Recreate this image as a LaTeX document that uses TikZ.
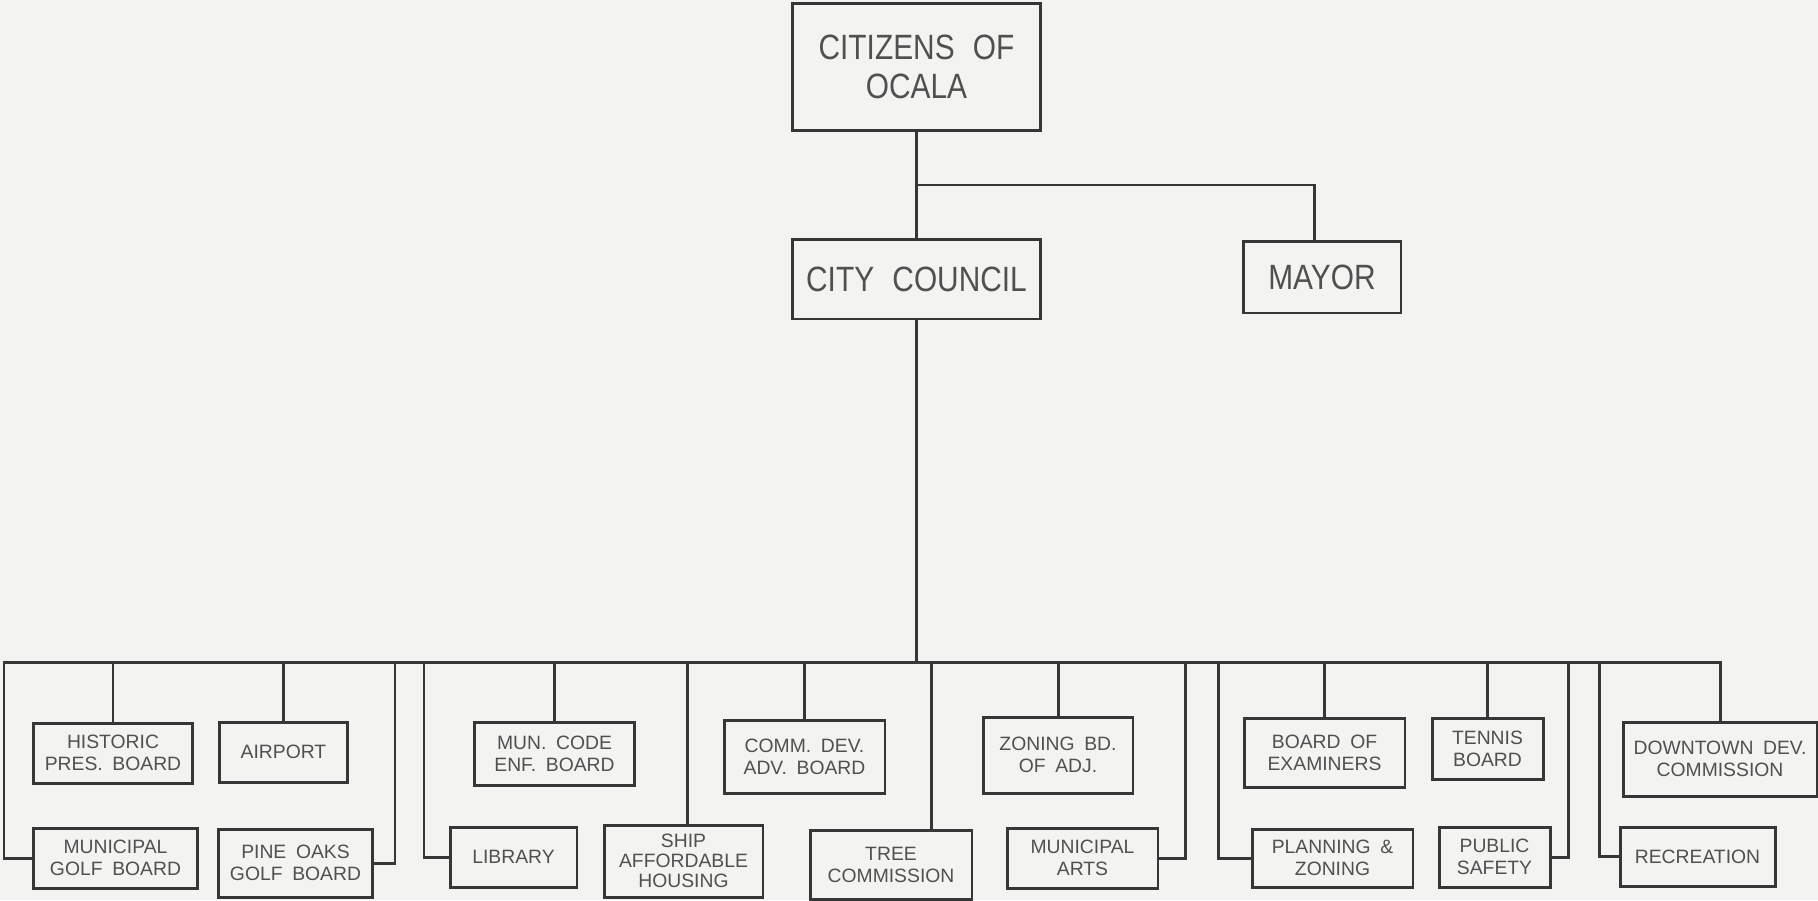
\documentclass[tikz,border=0pt]{standalone}
\usepackage{fontspec}
\setmainfont{Liberation Sans}[WordSpace=1.8]
\newfontfamily\tallfont{Liberation Sans}[FakeStretch=0.85, WordSpace=2.2]
\definecolor{paper}{HTML}{F3F3F1}
\definecolor{ink}{HTML}{363636}
\definecolor{lettering}{HTML}{505050}
\begin{document}
\begin{tikzpicture}[x=0.02cm, y=-0.02cm,
    org/.style={draw=ink, line width=1.7pt, align=center, inner sep=1pt, text=lettering},
    bigorg/.style={org, font=\tallfont\fontsize{20}{22}\selectfont},
    smallorg/.style={org, font=\fontsize{11}{12.5}\selectfont},
    wire/.style={draw=ink, line width=1.7pt}]
  \useasboundingbox[fill=paper] (0,0) rectangle (1818,900);

  % top of the chart
  \node[bigorg, minimum width=4.98cm, minimum height=2.56cm] (cit) at (916.5,67) {CITIZENS OF\\OCALA};
  \node[bigorg, minimum width=4.98cm, minimum height=1.6cm] (council) at (916.5,279) {CITY COUNCIL};
  \node[bigorg, minimum width=3.16cm, minimum height=1.44cm] (mayor) at (1322,277) {MAYOR};

  \coordinate (fork) at (916.5,185);
  \draw[wire] (cit.south) -- (council.north);
  \draw[wire] (fork) -| ([xshift=-0.16cm]mayor.north);

  % boards, upper row
  \node[smallorg, minimum width=3.2cm, minimum height=1.2cm] (hist) at (113,753) {HISTORIC\\PRES. BOARD};
  \node[smallorg, minimum width=2.58cm, minimum height=1.2cm] (airport) at (283.5,752) {AIRPORT};
  \node[smallorg, minimum width=3.22cm, minimum height=1.26cm] (muncode) at (554.5,753.5) {MUN. CODE\\ENF. BOARD};
  \node[smallorg, minimum width=3.22cm, minimum height=1.46cm] (commdev) at (804.5,756.5) {COMM. DEV.\\ADV. BOARD};
  \node[smallorg, minimum width=3.0cm, minimum height=1.52cm] (zoning) at (1058,755) {ZONING BD.\\OF ADJ.};
  \node[smallorg, minimum width=3.22cm, minimum height=1.38cm] (exam) at (1324.5,752.5) {BOARD OF\\EXAMINERS};
  \node[smallorg, minimum width=2.22cm, minimum height=1.22cm] (tennis) at (1487.5,748.5) {TENNIS\\BOARD};
  \node[smallorg, minimum width=3.88cm, minimum height=1.48cm] (down) at (1720,759) {DOWNTOWN DEV.\\COMMISSION};

  % boards, lower row
  \node[smallorg, minimum width=3.3cm, minimum height=1.2cm] (mgolf) at (115.5,858) {MUNICIPAL\\GOLF BOARD};
  \node[smallorg, minimum width=3.1cm, minimum height=1.36cm] (pine) at (295.5,863) {PINE OAKS\\GOLF BOARD};
  \node[smallorg, minimum width=2.54cm, minimum height=1.2cm] (lib) at (513.5,857) {LIBRARY};
  \node[smallorg, minimum width=3.18cm, minimum height=1.44cm, font=\fontsize{11}{11.5}\selectfont] (ship) at (683.5,861) {SHIP\\AFFORDABLE\\HOUSING};
  \node[smallorg, minimum width=3.24cm, minimum height=1.38cm] (tree) at (891,864.5) {TREE\\COMMISSION};
  \node[smallorg, minimum width=3.02cm, minimum height=1.2cm] (arts) at (1082.5,858) {MUNICIPAL\\ARTS};
  \node[smallorg, minimum width=3.22cm, minimum height=1.16cm] (plan) at (1332.5,858) {PLANNING \&\\ZONING};
  \node[smallorg, minimum width=2.22cm, minimum height=1.2cm] (safety) at (1494.5,857) {PUBLIC\\SAFETY};
  \node[smallorg, minimum width=3.1cm, minimum height=1.18cm] (rec) at (1697.5,856.5) {RECREATION};

  % the long bus under the council
  \coordinate (busL) at (4,662);
  \coordinate (busR) at (1720,662);
  \draw[wire] (council.south) -- (council.south |- busL);
  \draw[wire] (mgolf.west) -| (busL) -- (busR) -- (down.north);

  \draw[wire] (hist.north |- busL) -- (hist.north);
  \draw[wire] (airport.north |- busL) -- (airport.north);
  \draw[wire] (muncode.north |- busL) -- (muncode.north);
  \draw[wire] (commdev.north |- busL) -- (commdev.north);
  \draw[wire] (zoning.north |- busL) -- (zoning.north);
  \draw[wire] (exam.north |- busL) -- (exam.north);
  \draw[wire] (tennis.north |- busL) -- (tennis.north);

  \coordinate (pdrop) at (395,662);
  \coordinate (ldrop) at (424,662);
  \coordinate (sdrop) at (687,662);
  \coordinate (tdrop) at (931,662);
  \coordinate (adrop) at (1185,662);
  \coordinate (zdrop) at (1218,662);
  \coordinate (fdrop) at (1568,662);
  \coordinate (rdrop) at (1599,662);
  \draw[wire] (pdrop) |- (pine.east);
  \draw[wire] (ldrop) |- (lib.west);
  \draw[wire] (sdrop) -- (sdrop |- ship.north);
  \draw[wire] (tdrop) -- (tdrop |- tree.north);
  \draw[wire] (adrop) |- (arts.east);
  \draw[wire] (zdrop) |- (plan.west);
  \draw[wire] (fdrop) |- (safety.east);
  \draw[wire] (rdrop) |- (rec.west);
\end{tikzpicture}
\end{document}
